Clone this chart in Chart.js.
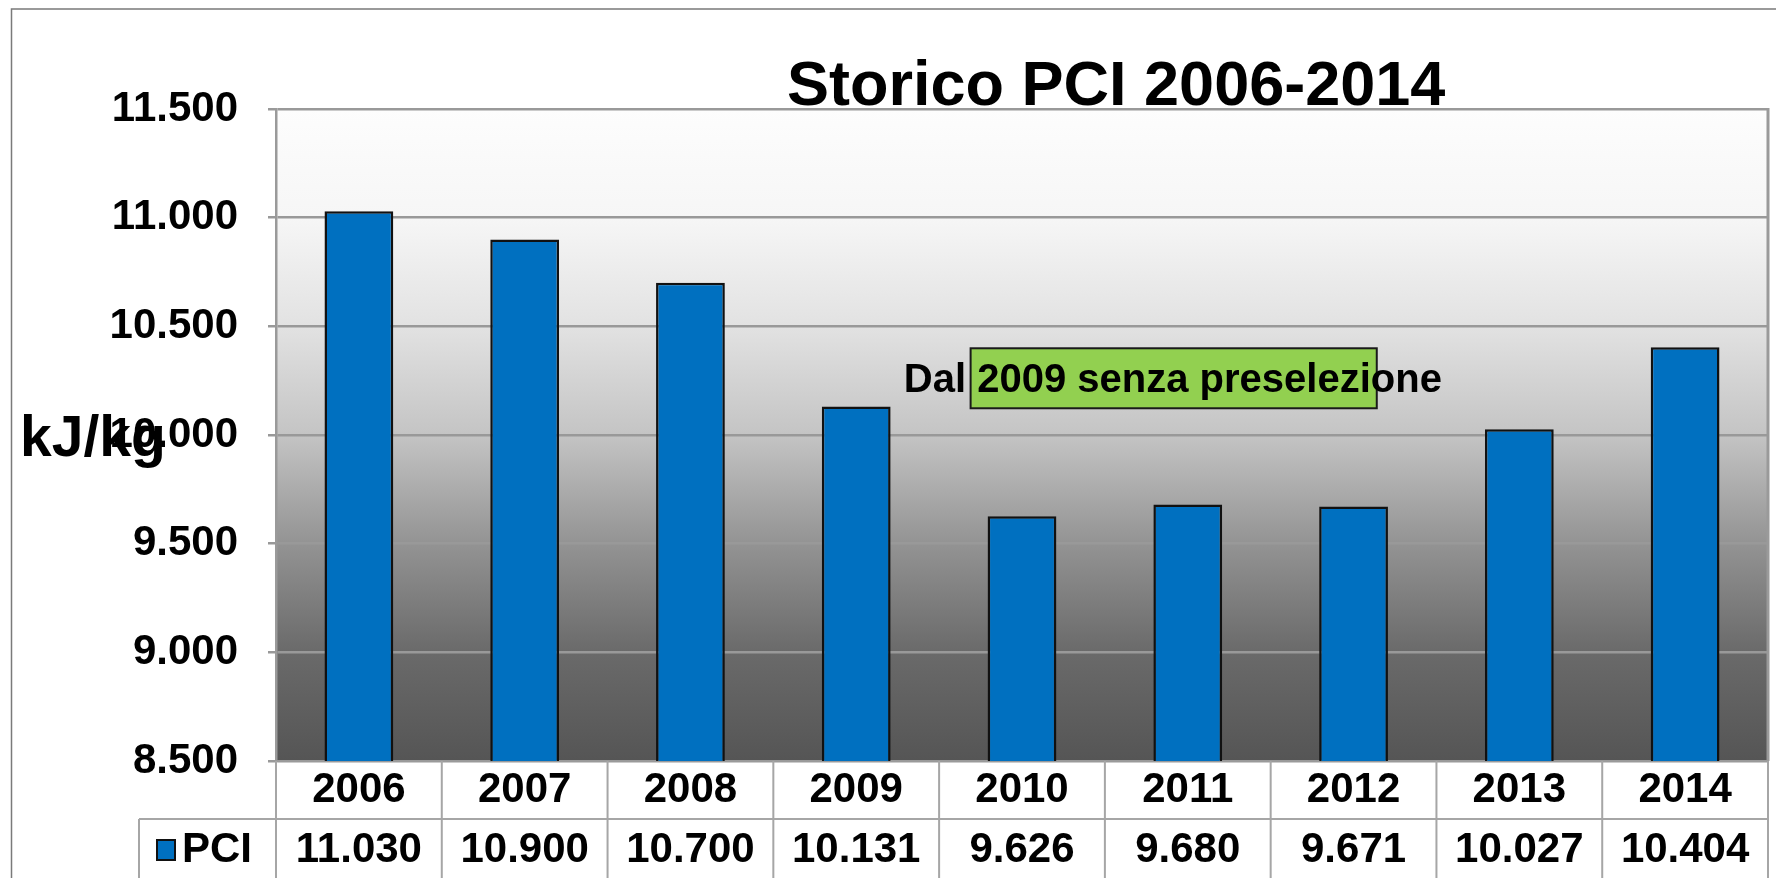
<!DOCTYPE html>
<html>
<head>
<meta charset="utf-8">
<script src="https://cdn.jsdelivr.net/npm/chart.js@4"></script>
<style>
html,body{margin:0;padding:0;background:#fff;}
#wrap{width:1776px;height:878px;position:relative;}
</style>
</head>
<body>
<div id="wrap"><canvas id="c" width="1776" height="878"></canvas></div>
<script>
// ---- data ----
const categories = ['2006','2007','2008','2009','2010','2011','2012','2013','2014'];
const pciValues = [11030, 10900, 10700, 10131, 9626, 9680, 9671, 10027, 10404];
const seriesName = 'PCI';
const chartTitle = 'Storico PCI 2006-2014';
const yAxisTitle = 'kJ/kg';
const yTicks = [8500, 9000, 9500, 10000, 10500, 11000, 11500];
const noteText = 'Dal 2009 senza preselezione';
// annotation box in data coordinates (category index, value)
const noteBoxX = [3.69, 6.14];
const noteBoxY = [10123, 10399];
const noteTextPos = [4.91, 10250];

const FONT = "'Liberation Sans', Arial, Helvetica, sans-serif";
const fmt = v => String(v).replace(/\B(?=(\d{3})+(?!\d))/g, '.');

const decorPlugin = {
  id: 'decor',
  beforeDraw(chart) {
    const {ctx, chartArea: a} = chart;
    ctx.save();
    const g = ctx.createLinearGradient(0, a.top, 0, a.bottom);
    g.addColorStop(0, '#fdfdfd');
    g.addColorStop(0.167, '#f6f6f6');
    g.addColorStop(0.333, '#e2e2e2');
    g.addColorStop(0.5, '#c4c4c4');
    g.addColorStop(0.667, '#939393');
    g.addColorStop(0.833, '#6a6a6a');
    g.addColorStop(1, '#555555');
    ctx.fillStyle = g;
    ctx.fillRect(a.left, a.top, a.right - a.left, a.bottom - a.top);
    ctx.restore();
  },
  afterDraw(chart) {
    const {ctx, chartArea: a, scales} = chart;
    const xs = scales.x, ys = scales.y;
    const H = chart.height;
    ctx.save();
    // outer border
    ctx.strokeStyle = '#7a7a7a';
    ctx.lineWidth = 1.5;
    ctx.strokeRect(11.5, 9, 1800, 1000);

    // plot right border
    ctx.strokeStyle = '#9a9a9a';
    ctx.lineWidth = 3;
    ctx.beginPath();
    ctx.moveTo(a.right, a.top - 1);
    ctx.lineTo(a.right, a.bottom);
    ctx.stroke();

    // data table
    const half = (xs.getPixelForValue(1) - xs.getPixelForValue(0)) / 2;
    const rowY = a.bottom + 58;
    const tableLeft = a.left - 137;
    ctx.strokeStyle = '#a6a6a6';
    ctx.lineWidth = 2;
    ctx.beginPath();
    ctx.moveTo(tableLeft, rowY); ctx.lineTo(a.right, rowY);
    ctx.moveTo(tableLeft, rowY); ctx.lineTo(tableLeft, H);
    for (let i = 0; i < categories.length; i++) {
      const xb = xs.getPixelForValue(i) - half;
      ctx.moveTo(xb, a.bottom); ctx.lineTo(xb, H);
    }
    const xr = xs.getPixelForValue(categories.length - 1) + half;
    ctx.moveTo(xr, a.bottom); ctx.lineTo(xr, H);
    ctx.stroke();

    ctx.fillStyle = '#000';
    ctx.font = 'bold 42px ' + FONT;
    ctx.textAlign = 'center';
    ctx.textBaseline = 'middle';
    const valY = rowY + 31;
    pciValues.forEach((v, i) => {
      ctx.fillText(fmt(v), xs.getPixelForValue(i), valY);
    });
    // legend key
    ctx.fillStyle = '#0070c0';
    ctx.fillRect(tableLeft + 18, valY - 10, 18, 20);
    ctx.strokeStyle = '#111';
    ctx.lineWidth = 2;
    ctx.strokeRect(tableLeft + 18, valY - 10, 18, 20);
    ctx.fillStyle = '#000';
    ctx.textAlign = 'left';
    ctx.fillText(seriesName, tableLeft + 43, valY);

    // annotation
    const bx1 = xs.getPixelForValue(noteBoxX[0]), bx2 = xs.getPixelForValue(noteBoxX[1]);
    const by1 = ys.getPixelForValue(noteBoxY[1]), by2 = ys.getPixelForValue(noteBoxY[0]);
    ctx.fillStyle = '#92d050';
    ctx.fillRect(bx1, by1, bx2 - bx1, by2 - by1);
    ctx.strokeStyle = '#1a1a1a';
    ctx.lineWidth = 2;
    ctx.strokeRect(bx1, by1, bx2 - bx1, by2 - by1);
    ctx.fillStyle = '#000';
    ctx.font = 'bold 40px ' + FONT;
    ctx.textAlign = 'center';
    ctx.textBaseline = 'middle';
    ctx.fillText(noteText, xs.getPixelForValue(noteTextPos[0]), ys.getPixelForValue(noteTextPos[1]));

    // y axis title (horizontal)
    ctx.font = 'bold 57px ' + FONT;
    ctx.textAlign = 'left';
    ctx.fillText(yAxisTitle, 20, ys.getPixelForValue(10000) + 5);

    // title
    ctx.font = 'bold 63px ' + FONT;
    ctx.textAlign = 'left';
    ctx.textBaseline = 'alphabetic';
    ctx.fillText(chartTitle, 787, a.top - 4);
    ctx.restore();
  }
};

new Chart(document.getElementById('c'), {
  type: 'bar',
  data: {
    labels: categories,
    datasets: [{
      label: seriesName,
      data: pciValues,
      backgroundColor: '#0070c0',
      borderColor: '#111111',
      borderWidth: 2.5,
      categoryPercentage: 1,
      barPercentage: 0.415
    }]
  },
  options: {
    responsive: false,
    animation: false,
    devicePixelRatio: 1,
    layout: { padding: { left: 0, top: 109, right: 8, bottom: 0 } },
    plugins: { legend: { display: false }, title: { display: false }, tooltip: { enabled: false } },
    scales: {
      x: {
        grid: { display: false, drawTicks: false },
        border: { display: true, color: '#9a9a9a', width: 2 },
        ticks: { color: '#000', font: { family: FONT, size: 42, weight: 'bold' }, padding: 4, maxRotation: 0, autoSkip: false },
        afterFit(s) { s.height = 117; }
      },
      y: {
        min: yTicks[0],
        max: yTicks[yTicks.length - 1],
        afterBuildTicks(s) { s.ticks = yTicks.map(v => ({ value: v })); },
        grid: { color: '#999999', lineWidth: 2.5, tickLength: 8, drawTicks: true },
        border: { display: true, color: '#9a9a9a', width: 2.5 },
        ticks: { color: '#000', font: { family: FONT, size: 42, weight: 'bold' }, padding: 30, callback: v => fmt(v) },
        afterFit(s) { s.width = 276; }
      }
    }
  },
  plugins: [decorPlugin]
});
</script>
</body>
</html>
